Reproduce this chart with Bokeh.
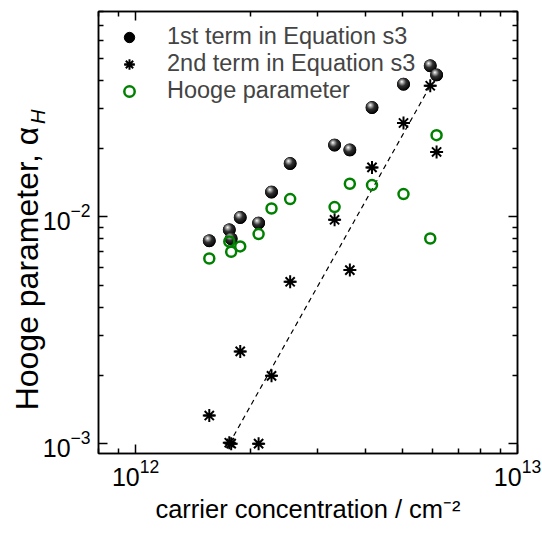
import base64
import math
from bokeh.plotting import figure
from bokeh.models import (LogAxis, FixedTicker, Legend, LegendItem, CustomJSTickFormatter,
                          ColumnDataSource, Label)
from bokeh.embed import file_html
from bokeh.resources import INLINE

# ---- data ----
carrier_conc = [1.56e12, 1.76e12, 1.78e12, 1.88e12, 2.10e12, 2.27e12, 2.54e12,
                3.32e12, 3.64e12, 4.16e12, 5.03e12, 5.91e12, 6.14e12]
first_term = [0.00784, 0.00876, 0.0080, 0.00993, 0.00938, 0.01285, 0.01717,
              0.0207, 0.0197, 0.0303, 0.0384, 0.0463, 0.0422]
second_term = [0.00133, 0.00101, 0.00100, 0.00255, 0.00100, 0.00199, 0.00517,
               0.0097, 0.00582, 0.0165, 0.0259, 0.0378, 0.0193]
hooge_param = [0.00655, 0.00778, 0.00701, 0.0074, 0.00839, 0.01088, 0.01197,
               0.01103, 0.01398, 0.01379, 0.01259, 0.00802, 0.0229]
fit_x = [1.76e12, 5.91e12]
fit_y = [1.0e-3, 3.78e-2]

legend_labels = ["1st term in Equation s3", "2nd term in Equation s3", "Hooge parameter"]
x_label = "carrier concentration / cm⁻²"
y_label = "Hooge parameter, α"
y_label_sub = "H"
x_major = [1e12, 1e13]
x_minor = [8e11, 9e11] + [k * 1e12 for k in range(2, 10)]
y_major = [1e-3, 1e-2]
y_minor = [k * 1e-3 for k in range(2, 10)] + [k * 1e-2 for k in range(2, 9)]

FONT = "Liberation Sans"
GREEN = "#008000"

W, H = 542, 536
BL, BR, BT, BB = 98, 25, 11, 83

p = figure(width=W, height=H, x_axis_type="log", y_axis_type="log",
           x_range=(8e11, 1e13), y_range=(9.05e-4, 0.0803),
           output_backend="svg", toolbar_location=None,
           min_border_left=BL, min_border_right=BR, min_border_top=BT,
           min_border_bottom=BB)
p.grid.visible = False
p.outline_line_color = "black"
p.outline_line_width = 1.5
p.background_fill_color = "white"
p.border_fill_color = "white"

def style_axis(ax, ticks, minor, labels=True):
    ax.ticker = FixedTicker(ticks=ticks, minor_ticks=minor)
    ax.axis_line_color = "black"
    ax.axis_line_width = 1.5
    ax.major_tick_in = 9
    ax.major_tick_out = 0
    ax.minor_tick_in = 5
    ax.minor_tick_out = 0
    ax.major_tick_line_width = 1.5
    ax.minor_tick_line_width = 1.5
    ax.major_tick_line_color = "black"
    ax.minor_tick_line_color = "black"
    if labels:
        ax.major_label_text_font = FONT
        ax.major_label_text_font_size = "25px"
        ax.major_label_text_color = "black"
        ax.axis_label_text_font = FONT
        ax.axis_label_text_font_style = "normal"
        ax.axis_label_text_font_size = "25.5px"
        ax.axis_label_text_color = "black"
    else:
        ax.formatter = CustomJSTickFormatter(code="return ''")
        ax.major_label_standoff = 0
        ax.major_label_text_font_size = "0px"

xa = p.xaxis[0]
ya = p.yaxis[0]
style_axis(xa, x_major, x_minor)
style_axis(ya, y_major, y_minor)
xa.axis_label = x_label
xa.major_label_standoff = 5
xa.axis_label_standoff = 6
ya.major_label_standoff = 8

top_ax = LogAxis()
right_ax = LogAxis()
style_axis(top_ax, x_major, x_minor, labels=False)
style_axis(right_ax, y_major, y_minor, labels=False)
p.add_layout(top_ax, "above")
p.add_layout(right_ax, "right")

# y-axis title: "Hooge parameter, α" (left panel) + italic subscript "H" (narrow right panel),
# both positioned in canvas units so they are not clipped to the frame
main_px = 32
sub_px = 20
main_len = (8.337 + 0.578) * main_px
sub_len = 0.722 * sub_px
center_y = 260
start_y = center_y + (main_len + sub_len) / 2
p.add_layout(Label(x=26, y=start_y, x_units="canvas", y_units="canvas",
                   text=y_label, angle=math.pi / 2, text_font=FONT,
                   text_font_size=f"{main_px}px", text_align="left",
                   text_baseline="middle", text_color="black"), "left")
p.add_layout(Label(x=37, y=start_y - main_len - 1, x_units="canvas", y_units="canvas",
                   text=y_label_sub, angle=math.pi / 2, text_font=FONT,
                   text_font_style="italic", text_font_size=f"{sub_px}px", text_align="left",
                   text_baseline="middle", text_color="black"), "right")

# dashed power-law line
p.line(fit_x, fit_y, line_color="black", line_dash="5 4", line_width=1.2)

# spheres
sphere_svg = ('<svg xmlns="http://www.w3.org/2000/svg" width="48" height="48" viewBox="0 0 48 48">'
              '<defs><radialGradient id="g" cx="0.42" cy="0.38" r="0.62" fx="0.36" fy="0.3">'
              '<stop offset="0" stop-color="#ffffff"/><stop offset="0.18" stop-color="#b0b0b0"/>'
              '<stop offset="0.5" stop-color="#303030"/><stop offset="1" stop-color="#000000"/>'
              '</radialGradient></defs><circle cx="24" cy="24" r="23.5" fill="url(#g)"/></svg>')
sphere_url = "data:image/svg+xml;base64," + base64.b64encode(sphere_svg.encode()).decode()

src1 = ColumnDataSource(dict(x=carrier_conc, y=first_term, url=[sphere_url] * len(carrier_conc)))
r1 = p.scatter("x", "y", source=src1, size=12, marker="circle", fill_color="black",
               line_color="black")
p.image_url(url="url", x="x", y="y", w=13, h=13, w_units="screen", h_units="screen",
            anchor="center", source=src1)

r2a = p.scatter(carrier_conc, second_term, size=13, marker="asterisk", line_color="black",
                line_width=2)
r2b = p.scatter(carrier_conc, second_term, size=11, marker="dash", line_color="black",
                line_width=2)
r3 = p.scatter(carrier_conc, hooge_param, size=10, marker="circle", fill_color=None,
               line_color=GREEN, line_width=2.5)

legend = Legend(items=[LegendItem(label=legend_labels[0], renderers=[r1]),
                       LegendItem(label=legend_labels[1], renderers=[r2a, r2b]),
                       LegendItem(label=legend_labels[2], renderers=[r3])],
                location="top_left", margin=12, padding=2, spacing=0,
                glyph_width=38, glyph_height=26, label_height=26, label_standoff=19,
                border_line_color=None, background_fill_alpha=0,
                label_text_font=FONT, label_text_font_size="23.5px")
p.add_layout(legend)

open("out.html", "w").write(file_html(p, INLINE))
